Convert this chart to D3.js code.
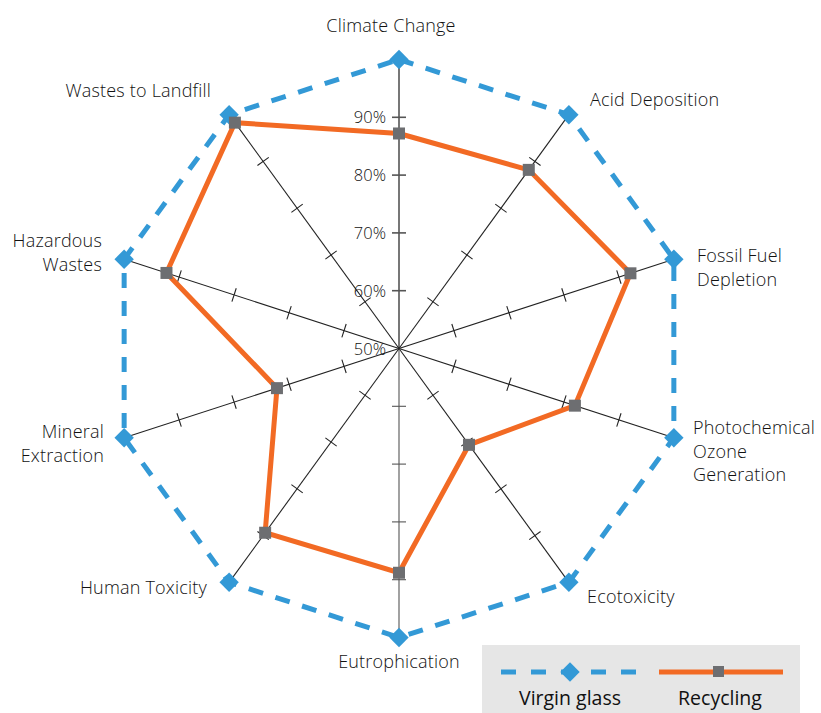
<!DOCTYPE html>
<html>
<head>
<meta charset="utf-8">
<script src="https://cdn.jsdelivr.net/npm/d3@7"></script>
<style>
  body { margin: 0; background: #fff; }
  svg { display: block; font-family: "Open Sans", sans-serif; }
</style>
</head>
<body>
<svg></svg>
<script>
let categories = ['Climate Change', 'Acid Deposition', 'Fossil Fuel Depletion', 'Photochemical Ozone Generation',
  'Ecotoxicity', 'Eutrophication', 'Human Toxicity', 'Mineral Extraction', 'Hazardous Wastes', 'Wastes to Landfill']
let labelLines = [['Climate Change'], ['Acid Deposition'], ['Fossil Fuel', 'Depletion'], ['Photochemical', 'Ozone', 'Generation'],
  ['Ecotoxicity'], ['Eutrophication'], ['Human Toxicity'], ['Mineral', 'Extraction'], ['Hazardous', 'Wastes'], ['Wastes to Landfill']]
let virginGlass = [100, 100, 100, 100, 100, 100, 100, 100, 100, 100]
let recycling = [87.2, 88.2, 92.1, 82.0, 70.6, 88.8, 89.4, 72.2, 92.3, 98.3]
let tickValues = [60, 70, 80, 90]
let tickLabels = [50, 60, 70, 80, 90]
let seriesNames = ['Virgin glass', 'Recycling']

let width = 821
let height = 713
let cx = 399
let cy = 348.5
let radius = 289

let blue = '#3399d6'
let orange = '#f26a24'
let grey = '#6d6e71'

let svg = d3.select('svg').attr('width', width).attr('height', height)

let rScale = d3.scaleLinear().domain([50, 100]).range([0, radius])
let aScale = d3.scaleLinear().domain([0, categories.length]).range([0, 2 * Math.PI])

let px = (i, v) => cx + rScale(v) * Math.sin(aScale(i))
let py = (i, v) => cy - rScale(v) * Math.cos(aScale(i))

let g = svg.append('g')

// spokes
g.selectAll('line.spoke')
  .data(categories)
  .enter()
  .append('line')
  .attr('class', 'spoke')
  .attr('x1', cx).attr('y1', cy)
  .attr('x2', (d, i) => px(i, 100))
  .attr('y2', (d, i) => py(i, 100))
  .attr('stroke', (d, i) => (i === 0 || i === 5) ? '#555' : '#222')
  .attr('stroke-width', (d, i) => i === 0 ? 1.6 : 1.1)

// ticks across each spoke
categories.forEach((c, i) => {
  let a = aScale(i)
  g.selectAll(null)
    .data(tickValues)
    .enter()
    .append('line')
    .attr('x1', v => px(i, v) - 7 * Math.cos(a))
    .attr('y1', v => py(i, v) - 7 * Math.sin(a))
    .attr('x2', v => px(i, v) + 7 * Math.cos(a))
    .attr('y2', v => py(i, v) + 7 * Math.sin(a))
    .attr('stroke', (i === 0 || i === 5) ? '#555' : '#222')
    .attr('stroke-width', i === 0 ? 1.6 : 1.1)
})

// percent labels on the first spoke
g.selectAll('text.pct')
  .data(tickLabels)
  .enter()
  .append('text')
  .attr('class', 'pct')
  .attr('x', cx - 13)
  .attr('y', v => py(0, v) + 6)
  .attr('text-anchor', 'end')
  .style('font-size', '16.5px')
  .style('font-weight', 300)
  .style('fill', '#111')
  .text(v => v + '%')

let line = d3.line()
  .x(d => d[0])
  .y(d => d[1])
  .curve(d3.curveLinearClosed)

let toPoints = (values) => values.map((v, i) => [px(i, v), py(i, v)])

g.append('path')
  .attr('d', line(toPoints(virginGlass)))
  .attr('fill', 'none')
  .attr('stroke', blue)
  .attr('stroke-width', 5)
  .attr('stroke-dasharray', '15,13')

g.selectAll('path.diamond')
  .data(virginGlass)
  .enter()
  .append('path')
  .attr('class', 'diamond')
  .attr('d', d3.symbol(d3.symbolDiamond2, 240))
  .attr('transform', (v, i) => 'translate(' + px(i, v) + ',' + py(i, v) + ')')
  .attr('fill', blue)

g.append('path')
  .attr('d', line(toPoints(recycling)))
  .attr('fill', 'none')
  .attr('stroke', orange)
  .attr('stroke-width', 5)
  .attr('stroke-linejoin', 'miter')

g.selectAll('rect.sq')
  .data(recycling)
  .enter()
  .append('rect')
  .attr('class', 'sq')
  .attr('x', (v, i) => px(i, v) - 6)
  .attr('y', (v, i) => py(i, v) - 6)
  .attr('width', 12)
  .attr('height', 12)
  .attr('fill', grey)

// category labels
let labelPos = [
  { x: 391, y: 32, anchor: 'middle' },
  { x: 590, y: 106, anchor: 'start' },
  { x: 697, y: 262, anchor: 'start' },
  { x: 693, y: 434, anchor: 'start' },
  { x: 587, y: 603, anchor: 'start' },
  { x: 399, y: 668, anchor: 'middle' },
  { x: 207, y: 594, anchor: 'end' },
  { x: 104, y: 438, anchor: 'end' },
  { x: 102, y: 247, anchor: 'end' },
  { x: 211, y: 97, anchor: 'end' }
]

labelLines.forEach((lines, i) => {
  let t = g.append('text')
    .attr('x', labelPos[i].x)
    .attr('y', labelPos[i].y)
    .attr('text-anchor', labelPos[i].anchor)
    .style('font-size', '18px')
    .style('font-weight', 300)
    .style('letter-spacing', '0.2px')
    .style('fill', '#111')
  lines.forEach((l, k) => {
    t.append('tspan')
      .attr('x', labelPos[i].x)
      .attr('dy', k === 0 ? 0 : 23.5)
      .text(l)
  })
})

// legend
let legend = svg.append('g')
legend.append('rect')
  .attr('x', 482).attr('y', 645)
  .attr('width', 318).attr('height', 68)
  .attr('fill', '#e6e6e6')

legend.append('line')
  .attr('x1', 501).attr('x2', 638)
  .attr('y1', 672).attr('y2', 672)
  .attr('stroke', blue)
  .attr('stroke-width', 5)
  .attr('stroke-dasharray', '15,15')
legend.append('path')
  .attr('d', d3.symbol(d3.symbolDiamond2, 240))
  .attr('transform', 'translate(570,672)')
  .attr('fill', blue)

legend.append('line')
  .attr('x1', 659).attr('x2', 783)
  .attr('y1', 672).attr('y2', 672)
  .attr('stroke', orange)
  .attr('stroke-width', 5)
legend.append('rect')
  .attr('x', 713).attr('y', 666)
  .attr('width', 11).attr('height', 11)
  .attr('fill', grey)

legend.selectAll('text')
  .data(seriesNames)
  .enter()
  .append('text')
  .attr('x', (d, i) => i === 0 ? 570 : 720)
  .attr('y', 705)
  .attr('text-anchor', 'middle')
  .style('font-size', '19.5px')
  .style('fill', '#111')
  .text(d => d)
</script>
</body>
</html>
